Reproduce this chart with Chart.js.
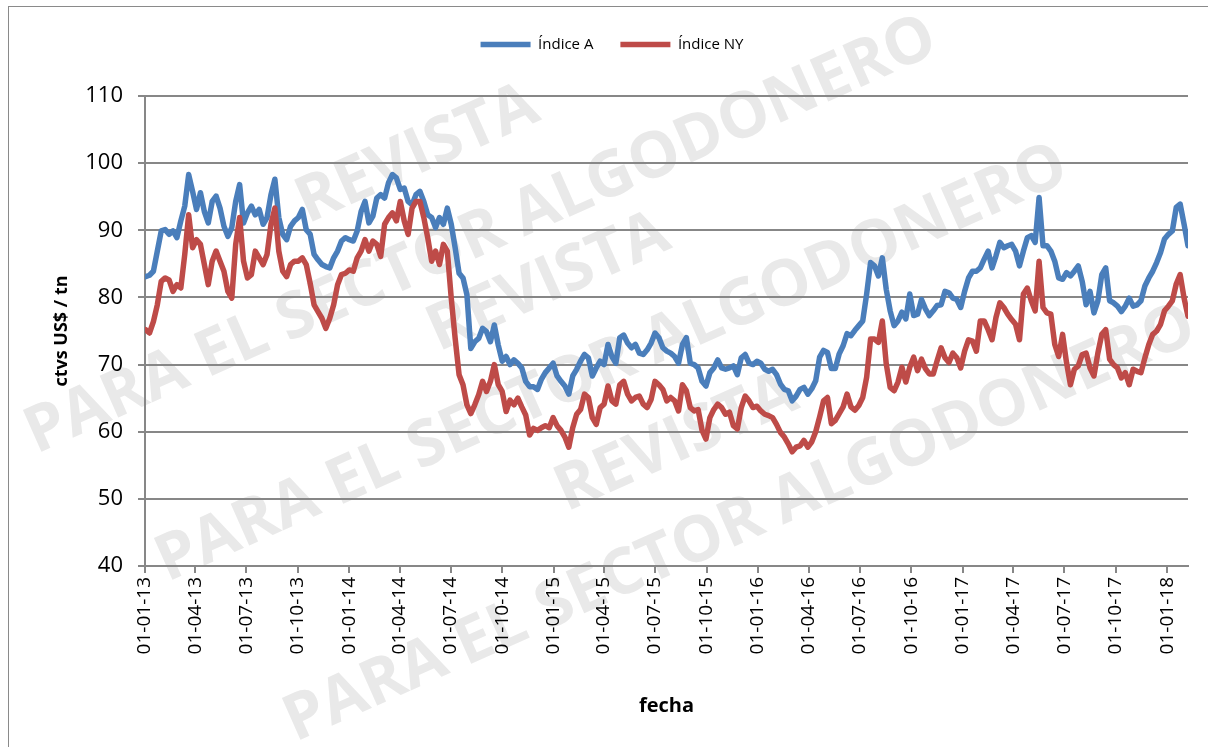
<!DOCTYPE html>
<html>
<head>
<meta charset="utf-8">
<script src="https://cdn.jsdelivr.net/npm/chart.js@4.4.0/dist/chart.umd.min.js"></script>
<style>
    html, body { margin: 0; padding: 0; background: #fff; }
    #wrap { position: relative; width: 1208px; height: 747px; overflow: hidden; }
    #frame {
        position: absolute; left: 8px; top: 6px; width: 1300px; height: 900px;
        border-left: 1px solid #8a8a8a; border-top: 1px solid #8a8a8a;
    }
    #chart { position: absolute; left: 0; top: 0; }
</style>
</head>
<body>
<div id="wrap">
    <div id="frame"></div>
    <canvas id="chart" width="1208" height="747"></canvas>
</div>
<script>
// quarterly tick labels (dd-mm-yy)
const tickLabels = [
    '01-01-13', '01-04-13', '01-07-13', '01-10-13',
    '01-01-14', '01-04-14', '01-07-14', '01-10-14',
    '01-01-15', '01-04-15', '01-07-15', '01-10-15',
    '01-01-16', '01-04-16', '01-07-16', '01-10-16',
    '01-01-17', '01-04-17', '01-07-17', '01-10-17',
    '01-01-18'
];

// weekly readings, first one on 02-01-13
const firstDate = '02-01-13';

// Índice A
const indiceA = [
    83.1, 83.3, 83.9, 86.9, 89.9, 90.1, 89.4, 89.9, 88.9, 91.4, 93.6, 98.3, 95.8, 93.1, 95.6, 92.8,
    91.1, 94.3, 95.1, 93.3, 90.6, 89.1, 90.4, 94.3, 96.8, 91.1, 92.6, 93.6, 92.3, 93.1, 90.9,
    91.9, 95.3, 97.6, 91.9, 89.4, 88.6, 90.6, 91.4, 91.9, 93.1, 90.1, 89.4, 86.4, 85.6, 84.9, 84.6,
    84.4, 85.9, 86.9, 88.4, 88.9, 88.6, 88.4, 89.9, 92.8, 94.3, 91.1, 92.1, 94.8, 95.3, 94.8, 97.1,
    98.3, 97.8, 96.1,
    96.3, 94.3, 93.8, 95.3, 95.8, 94.3, 92.3, 91.9, 90.4, 91.9, 90.9, 93.3, 90.9, 87.4, 83.6, 82.9,
    80.4, 72.4, 73.4, 73.9, 75.4, 74.9, 73.4, 75.9, 72.9, 70.5, 71.2, 70.0, 70.7, 70.2, 69.5, 67.5,
    66.7, 66.7,
    66.3, 67.8, 68.8, 69.5, 70.2, 68.3, 67.5, 66.8, 65.6, 68.3, 69.3, 70.5, 71.5, 71.0, 68.3, 69.5,
    70.5, 70.0, 73.0, 71.2, 70.2, 74.0, 74.4, 73.2, 72.5, 73.0, 71.7, 71.5, 72.2, 73.2, 74.7, 74.0,
    72.5, 72.0,
    71.7, 71.2, 70.2, 73.0, 74.0, 70.2, 70.0, 69.5, 67.5, 66.8, 68.8, 69.5, 70.7, 69.5, 69.3, 69.5,
    69.8, 68.5, 71.0, 71.5, 70.2, 70.0, 70.5, 70.2, 69.3, 69.0, 69.3, 68.5, 67.1, 66.3, 66.1, 64.6,
    65.3, 66.3, 66.6,
    65.6, 66.4, 67.6, 71.1, 72.1, 71.8, 69.4, 69.4, 71.6, 72.8, 74.6, 74.3, 75.1, 75.8, 76.5, 80.5,
    85.2, 84.7, 83.2, 85.9, 81.2, 78.0, 75.8, 76.5, 77.8, 76.8, 80.5, 77.3, 77.5, 79.7, 78.3, 77.3,
    78.0, 78.8,
    78.9, 80.9, 80.7, 79.9, 79.7, 78.5, 80.9, 82.9, 83.9, 83.9, 84.4, 85.7, 86.9, 84.4, 86.2, 88.2,
    87.4, 87.7, 87.9, 86.9, 84.7, 86.9, 88.9, 89.2, 88.2, 94.9, 87.7, 87.7, 86.9, 85.4, 82.9, 82.7,
    83.7, 83.2,
    83.9, 84.7, 82.4, 78.9, 80.9, 77.7, 79.5, 83.4, 84.4, 79.5, 79.2, 78.7, 77.9, 78.7, 79.9, 78.7,
    78.9, 79.5, 81.7, 82.9, 83.9, 85.2, 86.7, 88.7, 89.4, 89.9, 93.4, 93.9, 90.9, 87.7
];

// Índice NY
const indiceNY = [
    75.2, 74.7, 76.4, 78.9, 82.4, 82.9, 82.6, 80.9, 81.9, 81.4, 86.4, 92.3, 87.4, 88.6, 87.9, 84.9,
    81.9, 85.4, 86.9, 85.4, 83.9, 80.9, 79.9, 87.9, 91.9, 85.4, 82.9, 83.4, 86.9, 85.9, 84.9,
    86.4, 90.9, 93.3, 86.9, 83.9, 83.1, 84.9, 85.4, 85.4, 85.9, 84.9, 82.1, 78.9, 77.9, 76.9, 75.4,
    76.9, 78.9, 81.9, 83.4, 83.6, 84.1, 83.9, 85.9, 86.9, 88.6, 86.9, 88.4, 87.9, 86.1, 90.9, 91.9,
    92.6, 91.4, 94.3,
    91.4, 89.4, 93.3, 94.3, 94.3, 91.9, 88.9, 85.4, 86.9, 84.9, 87.9, 86.9, 79.9, 73.9, 68.5, 67.0,
    64.0, 62.7, 64.0, 65.5, 67.5, 66.0, 67.5, 70.0, 67.0, 66.0, 63.0, 64.7, 64.0, 65.0, 63.7, 62.5,
    59.5, 60.5,
    60.2, 60.6, 60.9, 60.6, 62.1, 60.9, 60.2, 59.2, 57.7, 60.6, 62.6, 63.3, 65.6, 65.1, 62.1, 61.1,
    63.6, 64.1, 66.8, 64.6, 64.1, 67.0, 67.5, 65.6, 64.6, 65.1, 65.3, 64.1, 63.6, 64.8, 67.5, 67.0,
    66.3, 64.6,
    65.1, 64.6, 63.1, 67.0, 66.1, 63.6, 63.1, 63.3, 60.2, 58.9, 62.1, 63.3, 64.1, 63.6, 62.6, 62.9,
    60.9, 60.4, 63.6, 65.3, 64.6, 63.6, 63.8, 63.1, 62.6, 62.4, 62.1, 61.1, 59.9, 59.2, 58.2, 57.0,
    57.7, 57.9, 58.7,
    57.7, 58.5, 60.0, 62.2, 64.6, 65.1, 61.2, 61.7, 62.7, 63.7, 65.6, 63.7, 63.2, 63.9, 65.1, 68.1,
    73.8, 73.8, 73.3, 76.5, 70.1, 66.6, 66.1, 67.4, 69.6, 67.4, 69.6, 71.1, 69.1, 70.8, 69.4, 68.6,
    68.6, 70.6,
    72.5, 71.0, 70.3, 71.7, 71.0, 69.5, 72.0, 73.7, 73.5, 72.0, 76.5, 76.5, 75.2, 73.7, 77.0, 79.2,
    78.5, 77.5, 76.7, 76.0, 73.7, 80.5, 81.4, 79.5, 78.0, 85.4, 78.5, 77.7, 77.5, 73.0, 71.2, 74.5,
    70.3, 67.0,
    69.3, 69.8, 71.5, 71.7, 69.5, 68.3, 71.7, 74.5, 75.2, 70.8, 70.0, 69.5, 68.0, 68.8, 67.0, 69.3,
    69.0, 68.8, 71.0, 73.0, 74.5, 75.0, 76.0, 78.0, 78.7, 79.5, 82.0, 83.4, 79.9, 77.2
];

// watermark text
const markTop = 'REVISTA';
const markBottom = 'PARA EL SECTOR ALGODONERO';

const DAY = 86400000;
const ORIGIN = Date.UTC(2013, 0, 1);

// 'dd-mm-yy' -> days since 01-01-13
function toDay(s) {
    const [d, m, y] = s.split('-').map(Number);
    return (Date.UTC(2000 + y, m - 1, d) - ORIGIN) / DAY;
}

const tickDays = tickLabels.map(toDay);
const startDay = toDay(firstDate);
const weekDays = indiceA.map((v, i) => startDay + 7 * i);

const GRID = '#878787';
const FONT = "'Open Sans', 'Liberation Sans', sans-serif";

/**
 * Faint rotated watermark, blended so the lines stay on top
 */
const watermark = {
    id: 'watermark',
    afterDraw(chart) {
        const ctx = chart.ctx;
        ctx.save();
        ctx.globalCompositeOperation = 'darken';
        ctx.fillStyle = '#e9e9e9';
        ctx.textAlign = 'center';
        ctx.textBaseline = 'middle';
        ctx.font = 'bold 62px ' + FONT;
        const size = 62 * 990 / ctx.measureText(markBottom).width;
        ctx.font = 'bold ' + size.toFixed(1) + 'px ' + FONT;
        [[481, 236], [612, 364], [740, 524]].forEach(([cx, cy]) => {
            ctx.save();
            ctx.translate(cx, cy);
            ctx.rotate(-24 * Math.PI / 180);
            ctx.fillText(markBottom, 0, 0);
            ctx.fillText(markTop, -25, -100);
            ctx.restore();
        });
        ctx.restore();
    }
};

// fixed legend height, nudged right like the original
const legendShift = {
    id: 'legendShift',
    beforeInit(chart) {
        const fit = chart.legend.fit;
        chart.legend.fit = function() {
            fit.bind(chart.legend)();
            this.height = 86;
        };
    },
    afterLayout(chart) {
        chart.legend.left += 14;
        chart.legend.right += 14;
    }
};

new Chart(document.getElementById('chart'), {
    type: 'line',
    data: {
        datasets: [
            {
                label: 'Índice A',
                data: weekDays.map((x, i) => ({ x: x, y: indiceA[i] })),
                borderColor: '#4A7EBB',
                backgroundColor: '#4A7EBB',
                borderWidth: 5.5,
                borderCapStyle: 'round',
                borderJoinStyle: 'round',
                pointRadius: 0,
                tension: 0,
                order: 2
            },
            {
                label: 'Índice NY',
                data: weekDays.map((x, i) => ({ x: x, y: indiceNY[i] })),
                borderColor: '#BE4B48',
                backgroundColor: '#BE4B48',
                borderWidth: 5.5,
                borderCapStyle: 'round',
                borderJoinStyle: 'round',
                pointRadius: 0,
                tension: 0,
                order: 1
            }
        ]
    },
    options: {
        responsive: false,
        devicePixelRatio: 1,
        animation: false,
        layout: {
            padding: { left: 8, top: 10, right: 20, bottom: 8 }
        },
        plugins: {
            legend: {
                position: 'top',
                labels: {
                    usePointStyle: true,
                    pointStyle: 'line',
                    pointStyleWidth: 50,
                    padding: 27,
                    color: '#000',
                    font: { family: FONT, size: 15 },
                    sort: (a, b) => a.datasetIndex - b.datasetIndex
                }
            },
            tooltip: { enabled: false }
        },
        scales: {
            x: {
                type: 'linear',
                min: 0,
                max: weekDays[weekDays.length - 1],
                afterBuildTicks: function(scale) {
                    scale.ticks = tickDays.map(v => ({ value: v }));
                },
                afterFit: function(scale) {
                    scale.height = 173;
                },
                ticks: {
                    autoSkip: false,
                    minRotation: 90,
                    maxRotation: 90,
                    padding: 4,
                    color: '#000',
                    font: { family: FONT, size: 19 },
                    callback: function(value, index) {
                        return tickLabels[index];
                    }
                },
                grid: {
                    drawOnChartArea: false,
                    drawTicks: true,
                    tickLength: 7,
                    color: GRID,
                    lineWidth: 2
                },
                border: { display: true, color: GRID, width: 2 },
                title: {
                    display: true,
                    text: 'fecha',
                    color: '#000',
                    font: { family: FONT, size: 20, weight: 'bold' },
                    padding: { top: 0, bottom: 21 }
                }
            },
            y: {
                min: 40,
                max: 110,
                afterFit: function(scale) {
                    scale.width = 137;
                },
                ticks: {
                    stepSize: 10,
                    padding: 15,
                    color: '#000',
                    font: { family: FONT, size: 22 }
                },
                grid: {
                    color: GRID,
                    lineWidth: 2,
                    tickLength: 7
                },
                border: { display: true, color: GRID, width: 2 },
                title: {
                    display: true,
                    text: 'ctvs US$ / tn',
                    color: '#000',
                    font: { family: FONT, size: 18, weight: 'bold' },
                    padding: { top: 43, bottom: 0 }
                }
            }
        }
    },
    plugins: [legendShift, watermark]
});
</script>
</body>
</html>
